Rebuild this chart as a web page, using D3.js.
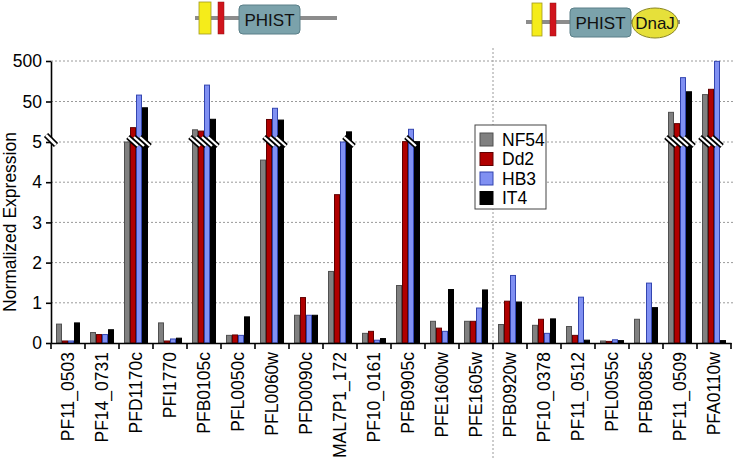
<!DOCTYPE html>
<html>
<head>
<meta charset="utf-8">
<script src="https://cdn.jsdelivr.net/npm/d3@7"></script>
<style>
  body { margin: 0; background: #fff; }
  svg { display: block; font-family: "Liberation Sans", Arial, sans-serif; }
</style>
</head>
<body>
<svg id="chart" width="737" height="459"></svg>
<script>
const categories = ["PF11_0503","PF14_0731","PFD1170c","PFI1770","PFB0105c","PFL0050c","PFL0060w","PFD0090c","MAL7P1_172","PF10_0161","PFB0905c","PFE1600w","PFE1605w","PFB0920w","PF10_0378","PF11_0512","PFL0055c","PFB0085c","PF11_0509","PFA0110w"];
const seriesNames = ["NF54","Dd2","HB3","IT4"];
const nf54 = [0.47,0.26,5.0,0.5,10,0.19,4.55,0.69,1.78,0.24,1.43,0.54,0.54,0.46,0.44,0.41,0.05,0.59,27,74];
const dd2  = [0.05,0.21,11.3,0.05,9.3,0.2,18,1.13,3.69,0.29,5.1,0.37,0.54,1.04,0.59,0.19,0.04,0,14.2,100];
const hb3  = [0.05,0.21,72,0.1,127,0.19,34,0.69,5.0,0.07,10.3,0.29,0.87,1.68,0.24,1.14,0.08,1.49,194,490];
const it4  = [0.5,0.33,35,0.12,18.2,0.65,17.4,0.69,8.9,0.11,5.1,1.33,1.32,1.02,0.6,0.07,0.06,0.88,87,0.06];
const linearTicks = [0,1,2,3,4,5];
const logTicks = [50,500];

const seriesValues = [nf54, dd2, hb3, it4];
const fills = ["#808080","#b00000","#8090f2","#000000"];
const strokes = ["#505050","#600000","#3345b0","#000000"];
const FS = 17.5;

const svg = d3.select("#chart");
const plotLeft = 51, plotRight = 731, plotBottom = 343, breakY = 142, plotTop = 61;

const x0 = d3.scaleBand().domain(categories).range([plotLeft, plotRight]).padding(0);
const x1 = d3.scaleBand().domain(seriesNames).range([5, 29]).padding(0);
const yLin = d3.scaleLinear().domain([0,5]).range([plotBottom, breakY]);
const yLog = d3.scaleLog().domain([5,500]).range([breakY, plotTop]);
const yPos = v => v <= 5 ? yLin(v) : yLog(v);

// protein diagrams
function protein(g, lineX0, lineX1, lineY, yel, red, box, dnaj) {
  g.append("line").attr("x1", lineX0).attr("x2", lineX1).attr("y1", lineY).attr("y2", lineY)
    .attr("stroke", "#8c8c8c").attr("stroke-width", 4);
  g.append("rect").attr("x", yel[0]).attr("y", yel[1]).attr("width", yel[2]).attr("height", yel[3])
    .attr("fill", "#f5ec1a").attr("stroke", "#a09a20").attr("stroke-width", 0.8);
  g.append("rect").attr("x", red[0]).attr("y", red[1]).attr("width", red[2]).attr("height", red[3])
    .attr("fill", "#d0141c").attr("stroke", "#901010").attr("stroke-width", 0.5);
  g.append("rect").attr("x", box[0]).attr("y", box[1]).attr("width", box[2]).attr("height", box[3])
    .attr("rx", 4).attr("fill", "#7ba2ab").attr("stroke", "#5a7f88").attr("stroke-width", 1);
  g.append("text").attr("x", box[0] + box[2]/2).attr("y", box[1] + box[3]/2 + 6)
    .attr("text-anchor", "middle").attr("font-size", 17).attr("fill", "#111").text("PHIST");
  if (dnaj) {
    g.append("ellipse").attr("cx", dnaj[0]).attr("cy", dnaj[1]).attr("rx", dnaj[2]).attr("ry", dnaj[3])
      .attr("fill", "#e6e03a").attr("stroke", "#8a8520").attr("stroke-width", 1);
    g.append("text").attr("x", dnaj[0]).attr("y", dnaj[1] + 6).attr("text-anchor", "middle")
      .attr("font-size", 17).attr("fill", "#111").text("DnaJ");
  }
}
protein(svg.append("g"), 195, 337, 18, [199,2,12,32], [218,2,6,32], [239,5,61,29], null);
protein(svg.append("g"), 526, 680, 22, [532,3,10,33], [550,3,6,33], [570,8,61,29], [655,23,23,15]);

// grid
const gridVals = linearTicks.filter(d => d > 0).map(yLin).concat(logTicks.map(d => yLog(d)));
svg.append("g").selectAll("line").data(gridVals).join("line")
  .attr("x1", plotLeft).attr("x2", 733).attr("y1", d => d).attr("y2", d => d)
  .attr("stroke", "#9a9a9a").attr("stroke-width", 1).attr("stroke-dasharray", "2,2");

// separator
svg.append("line").attr("x1", x0("PFB0920w")).attr("x2", x0("PFB0920w"))
  .attr("y1", 48).attr("y2", 458)
  .attr("stroke", "#9a9a9a").attr("stroke-width", 1).attr("stroke-dasharray", "2,2");

// bars
const barData = [];
categories.forEach((c, i) => seriesNames.forEach((s, j) => {
  barData.push({cat: c, s: s, j: j, v: seriesValues[j][i]});
}));
const bars = svg.append("g");
bars.selectAll("rect").data(barData.filter(d => d.v > 0)).join("rect")
  .attr("x", d => x0(d.cat) + x1(d.s) + 0.5)
  .attr("width", x1.bandwidth() - 1)
  .attr("y", d => yPos(d.v))
  .attr("height", d => plotBottom - yPos(d.v))
  .attr("fill", d => fills[d.j])
  .attr("stroke", d => strokes[d.j])
  .attr("stroke-width", 1);

// break marks on bars
const broken = barData.filter(d => d.v > 5.5);
const bm = svg.append("g");
broken.forEach(d => {
  const bx = x0(d.cat) + x1(d.s);
  const w = x1.bandwidth();
  bm.append("line").attr("x1", bx - 2).attr("y1", breakY - 5).attr("x2", bx + w + 2).attr("y2", breakY + 4)
    .attr("stroke", "#000").attr("stroke-width", 5.5);
});
broken.forEach(d => {
  const bx = x0(d.cat) + x1(d.s);
  const w = x1.bandwidth();
  bm.append("line").attr("x1", bx - 2).attr("y1", breakY - 5).attr("x2", bx + w + 2).attr("y2", breakY + 4)
    .attr("stroke", "#fff").attr("stroke-width", 2.2);
});

// y axes
const axLin = svg.append("g").attr("transform", `translate(${plotLeft},0)`)
  .call(d3.axisLeft(yLin).tickValues(linearTicks).tickSize(5).tickSizeOuter(0).tickPadding(4).tickFormat(d3.format("d")));
const axLog = svg.append("g").attr("transform", `translate(${plotLeft},0)`)
  .call(d3.axisLeft(yLog).tickValues(logTicks).tickSize(5).tickSizeOuter(0).tickPadding(4).tickFormat(d3.format("d")));
[axLin, axLog].forEach(a => {
  a.selectAll("path, line").attr("stroke", "#000").attr("stroke-width", 1.6);
  a.selectAll("text").attr("font-size", FS).attr("fill", "#000").attr("font-family", "Liberation Sans, Arial, sans-serif");
});

// axis break marker
const ab = svg.append("g");
ab.append("line").attr("x1", 46).attr("y1", breakY - 7).attr("x2", 56).attr("y2", breakY + 3)
  .attr("stroke", "#000").attr("stroke-width", 6);
ab.append("line").attr("x1", 46).attr("y1", breakY - 7).attr("x2", 56).attr("y2", breakY + 3)
  .attr("stroke", "#fff").attr("stroke-width", 2.5);

// x axis
const axX = svg.append("g").attr("transform", `translate(0,${plotBottom})`)
  .call(d3.axisBottom(x0).tickSize(0).tickFormat(""));
axX.select(".domain").attr("stroke", "#000").attr("stroke-width", 1.6);
axX.selectAll(".tick").remove();
const bounds = categories.map(c => x0(c)).concat([plotRight]);
axX.append("g").selectAll("line").data(bounds).join("line")
  .attr("x1", d => d).attr("x2", d => d).attr("y1", 0).attr("y2", 6)
  .attr("stroke", "#000").attr("stroke-width", 1.6);
svg.append("g").selectAll("text").data(categories).join("text")
  .attr("transform", d => `translate(${x0(d) + x0.bandwidth()/2},352) rotate(-90)`)
  .attr("text-anchor", "end").attr("dy", "0.35em")
  .attr("font-size", FS).attr("fill", "#000").text(d => d);

// y title
svg.append("text").attr("transform", "translate(16,222) rotate(-90)")
  .attr("text-anchor", "middle").attr("font-size", FS).attr("fill", "#000").text("Normalized Expression");

// legend
const lg = svg.append("g").attr("transform", "translate(475,125)");
lg.append("rect").attr("x", 0).attr("y", 0).attr("width", 71).attr("height", 84)
  .attr("fill", "#fff").attr("stroke", "#444").attr("stroke-width", 1);
const li = lg.selectAll("g.item").data(seriesNames).join("g").attr("class", "item")
  .attr("transform", (d, i) => `translate(5,${8 + i * 19.5})`);
li.append("rect").attr("width", 13).attr("height", 13)
  .attr("fill", (d, i) => fills[i]).attr("stroke", (d, i) => strokes[i]).attr("stroke-width", 1);
li.append("text").attr("x", 22).attr("y", 6.5).attr("dy", "0.35em")
  .attr("font-size", FS).attr("fill", "#000").text(d => d);
</script>
</body>
</html>
